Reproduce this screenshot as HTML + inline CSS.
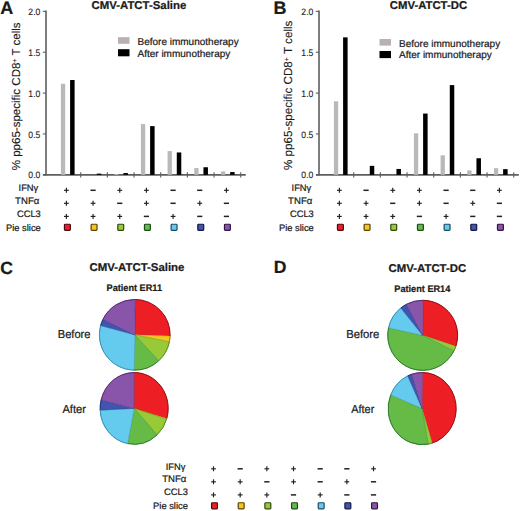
<!DOCTYPE html>
<html><head><meta charset="utf-8"><style>html,body{margin:0;padding:0;background:#fff;width:520px;height:511px;overflow:hidden}svg{display:block}text{font-family:"Liberation Sans",sans-serif;stroke:#1a1a1a;stroke-width:0.22px}</style></head><body><svg width="520" height="511" viewBox="0 0 520 511" font-family="Liberation Sans, sans-serif" fill="#1a1a1a" text-rendering="geometricPrecision"><text x="0.20" y="13.60" font-size="18" font-weight="bold" text-anchor="start" >A</text><text x="91.52" y="9.00" font-size="11.3" font-weight="bold" text-anchor="start" textLength="94.83" lengthAdjust="spacingAndGlyphs" >CMV-ATCT-Saline</text><text transform="translate(19.80,96.36) rotate(-90)" font-size="11.54" text-anchor="middle" style="stroke-width:0.12px">% pp65-specific CD8<tspan baseline-shift="super" font-size="7">+</tspan> T cells</text><line x1="46.00" y1="10.60" x2="46.00" y2="175.55" stroke="#5e5e5e" stroke-width="1.6"/><line x1="42.80" y1="174.85" x2="46.00" y2="174.85" stroke="#5e5e5e" stroke-width="1.1"/><text x="40.35" y="178.45" font-size="9.3" font-weight="normal" text-anchor="end" textLength="12.00" lengthAdjust="spacingAndGlyphs" style="stroke-width:0.1px">0.0</text><line x1="42.80" y1="133.97" x2="46.00" y2="133.97" stroke="#5e5e5e" stroke-width="1.1"/><text x="40.35" y="137.82" font-size="9.3" font-weight="normal" text-anchor="end" textLength="12.00" lengthAdjust="spacingAndGlyphs" style="stroke-width:0.1px">0.5</text><line x1="42.80" y1="93.10" x2="46.00" y2="93.10" stroke="#5e5e5e" stroke-width="1.1"/><text x="40.35" y="96.95" font-size="9.3" font-weight="normal" text-anchor="end" textLength="12.00" lengthAdjust="spacingAndGlyphs" style="stroke-width:0.1px">1.0</text><line x1="42.80" y1="52.22" x2="46.00" y2="52.22" stroke="#5e5e5e" stroke-width="1.1"/><text x="40.35" y="56.07" font-size="9.3" font-weight="normal" text-anchor="end" textLength="12.00" lengthAdjust="spacingAndGlyphs" style="stroke-width:0.1px">1.5</text><line x1="42.80" y1="11.35" x2="46.00" y2="11.35" stroke="#5e5e5e" stroke-width="1.1"/><text x="40.35" y="15.20" font-size="9.3" font-weight="normal" text-anchor="end" textLength="12.00" lengthAdjust="spacingAndGlyphs" style="stroke-width:0.1px">2.0</text><line x1="43.00" y1="174.85" x2="245.80" y2="174.85" stroke="#5e5e5e" stroke-width="1.7"/><line x1="80.70" y1="172.15" x2="80.70" y2="177.55" stroke="#5e5e5e" stroke-width="1.1"/><line x1="107.37" y1="172.15" x2="107.37" y2="177.55" stroke="#5e5e5e" stroke-width="1.1"/><line x1="134.04" y1="172.15" x2="134.04" y2="177.55" stroke="#5e5e5e" stroke-width="1.1"/><line x1="160.71" y1="172.15" x2="160.71" y2="177.55" stroke="#5e5e5e" stroke-width="1.1"/><line x1="187.38" y1="172.15" x2="187.38" y2="177.55" stroke="#5e5e5e" stroke-width="1.1"/><line x1="214.05" y1="172.15" x2="214.05" y2="177.55" stroke="#5e5e5e" stroke-width="1.1"/><line x1="240.72" y1="172.15" x2="240.72" y2="177.55" stroke="#5e5e5e" stroke-width="1.1"/><rect x="60.90" y="83.78" width="4.30" height="91.07" fill="#b9b9b9" /><rect x="70.10" y="80.02" width="4.50" height="94.83" fill="#000" /><rect x="96.77" y="173.62" width="4.50" height="1.23" fill="#000" /><rect x="114.24" y="174.03" width="4.30" height="0.82" fill="#b9b9b9" /><rect x="123.44" y="173.05" width="4.50" height="1.80" fill="#000" /><rect x="140.91" y="124.08" width="4.30" height="50.77" fill="#b9b9b9" /><rect x="150.11" y="126.13" width="4.50" height="48.72" fill="#000" /><rect x="167.58" y="151.06" width="4.30" height="23.79" fill="#b9b9b9" /><rect x="176.78" y="152.45" width="4.50" height="22.40" fill="#000" /><rect x="194.25" y="168.06" width="4.30" height="6.79" fill="#b9b9b9" /><rect x="203.45" y="167.25" width="4.50" height="7.60" fill="#000" /><rect x="220.92" y="171.42" width="4.30" height="3.43" fill="#b9b9b9" /><rect x="230.12" y="172.07" width="4.50" height="2.78" fill="#000" /><rect x="118.00" y="37.20" width="11.50" height="6.60" fill="#b9b0b4" /><rect x="118.00" y="49.20" width="11.50" height="7.10" fill="#000" /><text x="137.50" y="44.80" font-size="10" font-weight="normal" text-anchor="start" >Before immunotherapy</text><text x="137.50" y="56.50" font-size="10" font-weight="normal" text-anchor="start" >After immunotherapy</text><text x="38.30" y="191.00" font-size="9.35" font-weight="normal" text-anchor="end" >IFN&#947;</text><text x="39.30" y="203.70" font-size="9.6" font-weight="normal" text-anchor="end" >TNF&#945;</text><text x="40.80" y="216.80" font-size="9.35" font-weight="normal" text-anchor="end" >CCL3</text><text x="40.80" y="230.50" font-size="9.35" font-weight="normal" text-anchor="end" >Pie slice</text><line x1="64.00" y1="190.30" x2="68.80" y2="190.30" stroke="#222" stroke-width="1.15"/><line x1="66.40" y1="187.80" x2="66.40" y2="192.80" stroke="#222" stroke-width="1.15"/><line x1="90.47" y1="190.30" x2="95.67" y2="190.30" stroke="#222" stroke-width="1.5"/><line x1="117.34" y1="190.30" x2="122.14" y2="190.30" stroke="#222" stroke-width="1.15"/><line x1="119.74" y1="187.80" x2="119.74" y2="192.80" stroke="#222" stroke-width="1.15"/><line x1="144.01" y1="190.30" x2="148.81" y2="190.30" stroke="#222" stroke-width="1.15"/><line x1="146.41" y1="187.80" x2="146.41" y2="192.80" stroke="#222" stroke-width="1.15"/><line x1="170.48" y1="190.30" x2="175.68" y2="190.30" stroke="#222" stroke-width="1.5"/><line x1="197.15" y1="190.30" x2="202.35" y2="190.30" stroke="#222" stroke-width="1.5"/><line x1="224.02" y1="190.30" x2="228.82" y2="190.30" stroke="#222" stroke-width="1.15"/><line x1="226.42" y1="187.80" x2="226.42" y2="192.80" stroke="#222" stroke-width="1.15"/><line x1="64.00" y1="203.30" x2="68.80" y2="203.30" stroke="#222" stroke-width="1.15"/><line x1="66.40" y1="200.80" x2="66.40" y2="205.80" stroke="#222" stroke-width="1.15"/><line x1="90.67" y1="203.30" x2="95.47" y2="203.30" stroke="#222" stroke-width="1.15"/><line x1="93.07" y1="200.80" x2="93.07" y2="205.80" stroke="#222" stroke-width="1.15"/><line x1="117.14" y1="203.30" x2="122.34" y2="203.30" stroke="#222" stroke-width="1.5"/><line x1="144.01" y1="203.30" x2="148.81" y2="203.30" stroke="#222" stroke-width="1.15"/><line x1="146.41" y1="200.80" x2="146.41" y2="205.80" stroke="#222" stroke-width="1.15"/><line x1="170.48" y1="203.30" x2="175.68" y2="203.30" stroke="#222" stroke-width="1.5"/><line x1="197.35" y1="203.30" x2="202.15" y2="203.30" stroke="#222" stroke-width="1.15"/><line x1="199.75" y1="200.80" x2="199.75" y2="205.80" stroke="#222" stroke-width="1.15"/><line x1="223.82" y1="203.30" x2="229.02" y2="203.30" stroke="#222" stroke-width="1.5"/><line x1="64.00" y1="216.40" x2="68.80" y2="216.40" stroke="#222" stroke-width="1.15"/><line x1="66.40" y1="213.90" x2="66.40" y2="218.90" stroke="#222" stroke-width="1.15"/><line x1="90.67" y1="216.40" x2="95.47" y2="216.40" stroke="#222" stroke-width="1.15"/><line x1="93.07" y1="213.90" x2="93.07" y2="218.90" stroke="#222" stroke-width="1.15"/><line x1="117.34" y1="216.40" x2="122.14" y2="216.40" stroke="#222" stroke-width="1.15"/><line x1="119.74" y1="213.90" x2="119.74" y2="218.90" stroke="#222" stroke-width="1.15"/><line x1="143.81" y1="216.40" x2="149.01" y2="216.40" stroke="#222" stroke-width="1.5"/><line x1="170.68" y1="216.40" x2="175.48" y2="216.40" stroke="#222" stroke-width="1.15"/><line x1="173.08" y1="213.90" x2="173.08" y2="218.90" stroke="#222" stroke-width="1.15"/><line x1="197.15" y1="216.40" x2="202.35" y2="216.40" stroke="#222" stroke-width="1.5"/><line x1="223.82" y1="216.40" x2="229.02" y2="216.40" stroke="#222" stroke-width="1.5"/><rect x="64.45" y="224.25" width="5.90" height="6.10" fill="#ee1e25" rx="0.8" stroke="#4a0810" stroke-width="1.2"/><rect x="91.12" y="224.25" width="5.90" height="6.10" fill="#f7c51b" rx="0.8" stroke="#5a4200" stroke-width="1.2"/><rect x="117.79" y="224.25" width="5.90" height="6.10" fill="#97ca36" rx="0.8" stroke="#2e4a0c" stroke-width="1.2"/><rect x="144.46" y="224.25" width="5.90" height="6.10" fill="#65bb46" rx="0.8" stroke="#184a18" stroke-width="1.2"/><rect x="171.13" y="224.25" width="5.90" height="6.10" fill="#64cbee" rx="0.8" stroke="#184a66" stroke-width="1.2"/><rect x="197.80" y="224.25" width="5.90" height="6.10" fill="#4054b0" rx="0.8" stroke="#10183e" stroke-width="1.2"/><rect x="224.47" y="224.25" width="5.90" height="6.10" fill="#8855ab" rx="0.8" stroke="#30143e" stroke-width="1.2"/><text x="273.40" y="13.60" font-size="18" font-weight="bold" text-anchor="start" >B</text><text x="389.82" y="9.00" font-size="11.3" font-weight="bold" text-anchor="start" textLength="77.27" lengthAdjust="spacingAndGlyphs" >CMV-ATCT-DC</text><text transform="translate(292.30,95.30) rotate(-90)" font-size="11.66" text-anchor="middle" style="stroke-width:0.12px">% pp65-specific CD8<tspan baseline-shift="super" font-size="7">+</tspan> T cells</text><line x1="319.00" y1="10.60" x2="319.00" y2="175.55" stroke="#5e5e5e" stroke-width="1.6"/><line x1="315.80" y1="174.85" x2="319.00" y2="174.85" stroke="#5e5e5e" stroke-width="1.1"/><text x="313.35" y="178.45" font-size="9.3" font-weight="normal" text-anchor="end" textLength="12.00" lengthAdjust="spacingAndGlyphs" style="stroke-width:0.1px">0.0</text><line x1="315.80" y1="133.97" x2="319.00" y2="133.97" stroke="#5e5e5e" stroke-width="1.1"/><text x="313.35" y="137.82" font-size="9.3" font-weight="normal" text-anchor="end" textLength="12.00" lengthAdjust="spacingAndGlyphs" style="stroke-width:0.1px">0.5</text><line x1="315.80" y1="93.10" x2="319.00" y2="93.10" stroke="#5e5e5e" stroke-width="1.1"/><text x="313.35" y="96.95" font-size="9.3" font-weight="normal" text-anchor="end" textLength="12.00" lengthAdjust="spacingAndGlyphs" style="stroke-width:0.1px">1.0</text><line x1="315.80" y1="52.22" x2="319.00" y2="52.22" stroke="#5e5e5e" stroke-width="1.1"/><text x="313.35" y="56.07" font-size="9.3" font-weight="normal" text-anchor="end" textLength="12.00" lengthAdjust="spacingAndGlyphs" style="stroke-width:0.1px">1.5</text><line x1="315.80" y1="11.35" x2="319.00" y2="11.35" stroke="#5e5e5e" stroke-width="1.1"/><text x="313.35" y="15.20" font-size="9.3" font-weight="normal" text-anchor="end" textLength="12.00" lengthAdjust="spacingAndGlyphs" style="stroke-width:0.1px">2.0</text><line x1="316.00" y1="174.85" x2="518.80" y2="174.85" stroke="#5e5e5e" stroke-width="1.7"/><line x1="353.70" y1="172.15" x2="353.70" y2="177.55" stroke="#5e5e5e" stroke-width="1.1"/><line x1="380.37" y1="172.15" x2="380.37" y2="177.55" stroke="#5e5e5e" stroke-width="1.1"/><line x1="407.04" y1="172.15" x2="407.04" y2="177.55" stroke="#5e5e5e" stroke-width="1.1"/><line x1="433.71" y1="172.15" x2="433.71" y2="177.55" stroke="#5e5e5e" stroke-width="1.1"/><line x1="460.38" y1="172.15" x2="460.38" y2="177.55" stroke="#5e5e5e" stroke-width="1.1"/><line x1="487.05" y1="172.15" x2="487.05" y2="177.55" stroke="#5e5e5e" stroke-width="1.1"/><line x1="513.72" y1="172.15" x2="513.72" y2="177.55" stroke="#5e5e5e" stroke-width="1.1"/><rect x="333.90" y="101.27" width="4.30" height="73.58" fill="#b9b9b9" /><rect x="343.10" y="37.35" width="4.50" height="137.50" fill="#000" /><rect x="369.77" y="165.86" width="4.50" height="8.99" fill="#000" /><rect x="396.44" y="168.96" width="4.50" height="5.89" fill="#000" /><rect x="413.91" y="133.32" width="4.30" height="41.53" fill="#b9b9b9" /><rect x="423.11" y="113.54" width="4.50" height="61.31" fill="#000" /><rect x="440.58" y="155.31" width="4.30" height="19.54" fill="#b9b9b9" /><rect x="449.78" y="85.09" width="4.50" height="89.76" fill="#000" /><rect x="467.25" y="170.35" width="4.30" height="4.50" fill="#b9b9b9" /><rect x="476.45" y="158.25" width="4.50" height="16.60" fill="#000" /><rect x="493.92" y="168.15" width="4.30" height="6.70" fill="#b9b9b9" /><rect x="503.12" y="169.13" width="4.50" height="5.72" fill="#000" /><rect x="379.50" y="39.00" width="11.50" height="6.60" fill="#b9b0b4" /><rect x="379.50" y="51.00" width="11.50" height="7.10" fill="#000" /><text x="399.00" y="46.60" font-size="10" font-weight="normal" text-anchor="start" >Before immunotherapy</text><text x="399.00" y="58.30" font-size="10" font-weight="normal" text-anchor="start" >After immunotherapy</text><text x="311.30" y="191.00" font-size="9.35" font-weight="normal" text-anchor="end" >IFN&#947;</text><text x="312.30" y="203.70" font-size="9.6" font-weight="normal" text-anchor="end" >TNF&#945;</text><text x="313.80" y="216.80" font-size="9.35" font-weight="normal" text-anchor="end" >CCL3</text><text x="313.80" y="230.50" font-size="9.35" font-weight="normal" text-anchor="end" >Pie slice</text><line x1="337.00" y1="190.30" x2="341.80" y2="190.30" stroke="#222" stroke-width="1.15"/><line x1="339.40" y1="187.80" x2="339.40" y2="192.80" stroke="#222" stroke-width="1.15"/><line x1="363.47" y1="190.30" x2="368.67" y2="190.30" stroke="#222" stroke-width="1.5"/><line x1="390.34" y1="190.30" x2="395.14" y2="190.30" stroke="#222" stroke-width="1.15"/><line x1="392.74" y1="187.80" x2="392.74" y2="192.80" stroke="#222" stroke-width="1.15"/><line x1="417.01" y1="190.30" x2="421.81" y2="190.30" stroke="#222" stroke-width="1.15"/><line x1="419.41" y1="187.80" x2="419.41" y2="192.80" stroke="#222" stroke-width="1.15"/><line x1="443.48" y1="190.30" x2="448.68" y2="190.30" stroke="#222" stroke-width="1.5"/><line x1="470.15" y1="190.30" x2="475.35" y2="190.30" stroke="#222" stroke-width="1.5"/><line x1="497.02" y1="190.30" x2="501.82" y2="190.30" stroke="#222" stroke-width="1.15"/><line x1="499.42" y1="187.80" x2="499.42" y2="192.80" stroke="#222" stroke-width="1.15"/><line x1="337.00" y1="203.30" x2="341.80" y2="203.30" stroke="#222" stroke-width="1.15"/><line x1="339.40" y1="200.80" x2="339.40" y2="205.80" stroke="#222" stroke-width="1.15"/><line x1="363.67" y1="203.30" x2="368.47" y2="203.30" stroke="#222" stroke-width="1.15"/><line x1="366.07" y1="200.80" x2="366.07" y2="205.80" stroke="#222" stroke-width="1.15"/><line x1="390.14" y1="203.30" x2="395.34" y2="203.30" stroke="#222" stroke-width="1.5"/><line x1="417.01" y1="203.30" x2="421.81" y2="203.30" stroke="#222" stroke-width="1.15"/><line x1="419.41" y1="200.80" x2="419.41" y2="205.80" stroke="#222" stroke-width="1.15"/><line x1="443.48" y1="203.30" x2="448.68" y2="203.30" stroke="#222" stroke-width="1.5"/><line x1="470.35" y1="203.30" x2="475.15" y2="203.30" stroke="#222" stroke-width="1.15"/><line x1="472.75" y1="200.80" x2="472.75" y2="205.80" stroke="#222" stroke-width="1.15"/><line x1="496.82" y1="203.30" x2="502.02" y2="203.30" stroke="#222" stroke-width="1.5"/><line x1="337.00" y1="216.40" x2="341.80" y2="216.40" stroke="#222" stroke-width="1.15"/><line x1="339.40" y1="213.90" x2="339.40" y2="218.90" stroke="#222" stroke-width="1.15"/><line x1="363.67" y1="216.40" x2="368.47" y2="216.40" stroke="#222" stroke-width="1.15"/><line x1="366.07" y1="213.90" x2="366.07" y2="218.90" stroke="#222" stroke-width="1.15"/><line x1="390.34" y1="216.40" x2="395.14" y2="216.40" stroke="#222" stroke-width="1.15"/><line x1="392.74" y1="213.90" x2="392.74" y2="218.90" stroke="#222" stroke-width="1.15"/><line x1="416.81" y1="216.40" x2="422.01" y2="216.40" stroke="#222" stroke-width="1.5"/><line x1="443.68" y1="216.40" x2="448.48" y2="216.40" stroke="#222" stroke-width="1.15"/><line x1="446.08" y1="213.90" x2="446.08" y2="218.90" stroke="#222" stroke-width="1.15"/><line x1="470.15" y1="216.40" x2="475.35" y2="216.40" stroke="#222" stroke-width="1.5"/><line x1="496.82" y1="216.40" x2="502.02" y2="216.40" stroke="#222" stroke-width="1.5"/><rect x="337.45" y="224.25" width="5.90" height="6.10" fill="#ee1e25" rx="0.8" stroke="#4a0810" stroke-width="1.2"/><rect x="364.12" y="224.25" width="5.90" height="6.10" fill="#f7c51b" rx="0.8" stroke="#5a4200" stroke-width="1.2"/><rect x="390.79" y="224.25" width="5.90" height="6.10" fill="#97ca36" rx="0.8" stroke="#2e4a0c" stroke-width="1.2"/><rect x="417.46" y="224.25" width="5.90" height="6.10" fill="#65bb46" rx="0.8" stroke="#184a18" stroke-width="1.2"/><rect x="444.13" y="224.25" width="5.90" height="6.10" fill="#64cbee" rx="0.8" stroke="#184a66" stroke-width="1.2"/><rect x="470.80" y="224.25" width="5.90" height="6.10" fill="#4054b0" rx="0.8" stroke="#10183e" stroke-width="1.2"/><rect x="497.47" y="224.25" width="5.90" height="6.10" fill="#8855ab" rx="0.8" stroke="#30143e" stroke-width="1.2"/><text x="0.20" y="273.60" font-size="17.6" font-weight="bold" text-anchor="start" >C</text><text x="273.70" y="273.10" font-size="17.6" font-weight="bold" text-anchor="start" >D</text><text x="89.52" y="271.00" font-size="11.3" font-weight="bold" text-anchor="start" textLength="94.94" lengthAdjust="spacingAndGlyphs" >CMV-ATCT-Saline</text><text x="388.62" y="272.00" font-size="11.3" font-weight="bold" text-anchor="start" textLength="77.57" lengthAdjust="spacingAndGlyphs" >CMV-ATCT-DC</text><text x="106.62" y="291.20" font-size="9.6" font-weight="bold" text-anchor="start" textLength="55.37" lengthAdjust="spacingAndGlyphs" >Patient ER11</text><text x="394.32" y="291.90" font-size="9.6" font-weight="bold" text-anchor="start" textLength="55.98" lengthAdjust="spacingAndGlyphs" >Patient ER14</text><text x="57.79" y="337.80" font-size="11.6" font-weight="normal" text-anchor="start" textLength="32.72" lengthAdjust="spacingAndGlyphs" >Before</text><text x="62.43" y="412.80" font-size="11.6" font-weight="normal" text-anchor="start" textLength="23.58" lengthAdjust="spacingAndGlyphs" >After</text><text x="346.23" y="337.80" font-size="11.6" font-weight="normal" text-anchor="start" textLength="33.09" lengthAdjust="spacingAndGlyphs" >Before</text><text x="351.23" y="413.00" font-size="11.6" font-weight="normal" text-anchor="start" textLength="23.08" lengthAdjust="spacingAndGlyphs" >After</text><path d="M134.75,334.80 L135.18,299.45 A35.35,35.35 0 0 1 170.08,336.03 Z" fill="#ee1e25" stroke="#9a0e16" stroke-opacity="0.6" stroke-width="0.6" stroke-linejoin="round"/><path d="M134.75,334.80 L170.08,336.03 A35.35,35.35 0 0 1 169.39,341.85 Z" fill="#f7c51b" stroke="#a88000" stroke-opacity="0.6" stroke-width="0.6" stroke-linejoin="round"/><path d="M134.75,334.80 L169.39,341.85 A35.35,35.35 0 0 1 158.63,360.86 Z" fill="#97ca36" stroke="#5a8a22" stroke-opacity="0.6" stroke-width="0.6" stroke-linejoin="round"/><path d="M134.75,334.80 L158.63,360.86 A35.35,35.35 0 0 1 134.13,370.14 Z" fill="#65bb46" stroke="#2c7e2e" stroke-opacity="0.6" stroke-width="0.6" stroke-linejoin="round"/><path d="M134.75,334.80 L134.13,370.14 A35.35,35.35 0 0 1 100.62,325.59 Z" fill="#64cbee" stroke="#3590b8" stroke-opacity="0.6" stroke-width="0.6" stroke-linejoin="round"/><path d="M134.75,334.80 L100.62,325.59 A35.35,35.35 0 0 1 102.98,319.30 Z" fill="#4054b0" stroke="#223278" stroke-opacity="0.6" stroke-width="0.6" stroke-linejoin="round"/><path d="M134.75,334.80 L102.98,319.30 A35.35,35.35 0 0 1 135.18,299.45 Z" fill="#8855ab" stroke="#582a74" stroke-opacity="0.6" stroke-width="0.6" stroke-linejoin="round"/><path d="M135.18,299.45 A35.35,35.35 0 0 1 170.08,336.03" fill="none" stroke="#9a0e16" stroke-width="1.0"/><path d="M170.08,336.03 A35.35,35.35 0 0 1 169.39,341.85" fill="none" stroke="#a88000" stroke-width="1.0"/><path d="M169.39,341.85 A35.35,35.35 0 0 1 158.63,360.86" fill="none" stroke="#5a8a22" stroke-width="1.0"/><path d="M158.63,360.86 A35.35,35.35 0 0 1 134.13,370.14" fill="none" stroke="#2c7e2e" stroke-width="1.0"/><path d="M134.13,370.14 A35.35,35.35 0 0 1 100.62,325.59" fill="none" stroke="#3590b8" stroke-width="1.0"/><path d="M100.62,325.59 A35.35,35.35 0 0 1 102.98,319.30" fill="none" stroke="#223278" stroke-width="1.0"/><path d="M102.98,319.30 A35.35,35.35 0 0 1 135.18,299.45" fill="none" stroke="#582a74" stroke-width="1.0"/><path d="M134.15,408.40 L134.15,372.55 A34.00,35.85 0 0 1 166.74,418.61 Z" fill="#ee1e25" stroke="#9a0e16" stroke-opacity="0.6" stroke-width="0.6" stroke-linejoin="round"/><path d="M134.15,408.40 L166.74,418.61 A34.00,35.85 0 0 1 166.54,419.30 Z" fill="#f7c51b" stroke="#a88000" stroke-opacity="0.6" stroke-width="0.6" stroke-linejoin="round"/><path d="M134.15,408.40 L166.54,419.30 A34.00,35.85 0 0 1 157.08,434.87 Z" fill="#97ca36" stroke="#5a8a22" stroke-opacity="0.6" stroke-width="0.6" stroke-linejoin="round"/><path d="M134.15,408.40 L157.08,434.87 A34.00,35.85 0 0 1 127.57,443.57 Z" fill="#65bb46" stroke="#2c7e2e" stroke-opacity="0.6" stroke-width="0.6" stroke-linejoin="round"/><path d="M134.15,408.40 L127.57,443.57 A34.00,35.85 0 0 1 100.19,410.18 Z" fill="#64cbee" stroke="#3590b8" stroke-opacity="0.6" stroke-width="0.6" stroke-linejoin="round"/><path d="M134.15,408.40 L100.19,410.18 A34.00,35.85 0 0 1 101.16,399.74 Z" fill="#4054b0" stroke="#223278" stroke-opacity="0.6" stroke-width="0.6" stroke-linejoin="round"/><path d="M134.15,408.40 L101.16,399.74 A34.00,35.85 0 0 1 134.15,372.55 Z" fill="#8855ab" stroke="#582a74" stroke-opacity="0.6" stroke-width="0.6" stroke-linejoin="round"/><path d="M134.15,372.55 A34.00,35.85 0 0 1 166.74,418.61" fill="none" stroke="#9a0e16" stroke-width="1.0"/><path d="M166.74,418.61 A34.00,35.85 0 0 1 166.54,419.30" fill="none" stroke="#a88000" stroke-width="1.0"/><path d="M166.54,419.30 A34.00,35.85 0 0 1 157.08,434.87" fill="none" stroke="#5a8a22" stroke-width="1.0"/><path d="M157.08,434.87 A34.00,35.85 0 0 1 127.57,443.57" fill="none" stroke="#2c7e2e" stroke-width="1.0"/><path d="M127.57,443.57 A34.00,35.85 0 0 1 100.19,410.18" fill="none" stroke="#3590b8" stroke-width="1.0"/><path d="M100.19,410.18 A34.00,35.85 0 0 1 101.16,399.74" fill="none" stroke="#223278" stroke-width="1.0"/><path d="M101.16,399.74 A34.00,35.85 0 0 1 134.15,372.55" fill="none" stroke="#582a74" stroke-width="1.0"/><path d="M422.65,335.35 L422.65,300.30 A34.95,35.05 0 0 1 455.90,346.15 Z" fill="#ee1e25" stroke="#9a0e16" stroke-opacity="0.6" stroke-width="0.6" stroke-linejoin="round"/><path d="M422.65,335.35 L455.90,346.15 A34.95,35.05 0 0 1 453.95,350.95 Z" fill="#97ca36" stroke="#5a8a22" stroke-opacity="0.6" stroke-width="0.6" stroke-linejoin="round"/><path d="M422.65,335.35 L453.95,350.95 A34.95,35.05 0 0 1 388.54,327.72 Z" fill="#65bb46" stroke="#2c7e2e" stroke-opacity="0.6" stroke-width="0.6" stroke-linejoin="round"/><path d="M422.65,335.35 L388.54,327.72 A34.95,35.05 0 0 1 400.81,307.99 Z" fill="#64cbee" stroke="#3590b8" stroke-opacity="0.6" stroke-width="0.6" stroke-linejoin="round"/><path d="M422.65,335.35 L400.81,307.99 A34.95,35.05 0 0 1 406.64,304.19 Z" fill="#4054b0" stroke="#223278" stroke-opacity="0.6" stroke-width="0.6" stroke-linejoin="round"/><path d="M422.65,335.35 L406.64,304.19 A34.95,35.05 0 0 1 422.65,300.30 Z" fill="#8855ab" stroke="#582a74" stroke-opacity="0.6" stroke-width="0.6" stroke-linejoin="round"/><path d="M422.65,300.30 A34.95,35.05 0 0 1 455.90,346.15" fill="none" stroke="#9a0e16" stroke-width="1.0"/><path d="M455.90,346.15 A34.95,35.05 0 0 1 453.95,350.95" fill="none" stroke="#5a8a22" stroke-width="1.0"/><path d="M453.95,350.95 A34.95,35.05 0 0 1 388.54,327.72" fill="none" stroke="#2c7e2e" stroke-width="1.0"/><path d="M388.54,327.72 A34.95,35.05 0 0 1 400.81,307.99" fill="none" stroke="#3590b8" stroke-width="1.0"/><path d="M400.81,307.99 A34.95,35.05 0 0 1 406.64,304.19" fill="none" stroke="#223278" stroke-width="1.0"/><path d="M406.64,304.19 A34.95,35.05 0 0 1 422.65,300.30" fill="none" stroke="#582a74" stroke-width="1.0"/><path d="M422.15,408.60 L422.40,372.50 A34.00,36.10 0 0 1 432.23,443.08 Z" fill="#ee1e25" stroke="#9a0e16" stroke-opacity="0.6" stroke-width="0.6" stroke-linejoin="round"/><path d="M422.15,408.60 L432.23,443.08 A34.00,36.10 0 0 1 428.10,444.14 Z" fill="#97ca36" stroke="#5a8a22" stroke-opacity="0.6" stroke-width="0.6" stroke-linejoin="round"/><path d="M422.15,408.60 L428.10,444.14 A34.00,36.10 0 0 1 390.77,394.70 Z" fill="#65bb46" stroke="#2c7e2e" stroke-opacity="0.6" stroke-width="0.6" stroke-linejoin="round"/><path d="M422.15,408.60 L390.77,394.70 A34.00,36.10 0 0 1 407.73,375.91 Z" fill="#64cbee" stroke="#3590b8" stroke-opacity="0.6" stroke-width="0.6" stroke-linejoin="round"/><path d="M422.15,408.60 L407.73,375.91 A34.00,36.10 0 0 1 411.83,374.20 Z" fill="#4054b0" stroke="#223278" stroke-opacity="0.6" stroke-width="0.6" stroke-linejoin="round"/><path d="M422.15,408.60 L411.83,374.20 A34.00,36.10 0 0 1 422.40,372.50 Z" fill="#8855ab" stroke="#582a74" stroke-opacity="0.6" stroke-width="0.6" stroke-linejoin="round"/><path d="M422.40,372.50 A34.00,36.10 0 0 1 432.23,443.08" fill="none" stroke="#9a0e16" stroke-width="1.0"/><path d="M432.23,443.08 A34.00,36.10 0 0 1 428.10,444.14" fill="none" stroke="#5a8a22" stroke-width="1.0"/><path d="M428.10,444.14 A34.00,36.10 0 0 1 390.77,394.70" fill="none" stroke="#2c7e2e" stroke-width="1.0"/><path d="M390.77,394.70 A34.00,36.10 0 0 1 407.73,375.91" fill="none" stroke="#3590b8" stroke-width="1.0"/><path d="M407.73,375.91 A34.00,36.10 0 0 1 411.83,374.20" fill="none" stroke="#223278" stroke-width="1.0"/><path d="M411.83,374.20 A34.00,36.10 0 0 1 422.40,372.50" fill="none" stroke="#582a74" stroke-width="1.0"/><text x="185.40" y="469.50" font-size="9.35" font-weight="normal" text-anchor="end" >IFN&#947;</text><text x="186.40" y="482.20" font-size="9.6" font-weight="normal" text-anchor="end" >TNF&#945;</text><text x="187.90" y="495.30" font-size="9.35" font-weight="normal" text-anchor="end" >CCL3</text><text x="187.90" y="509.00" font-size="9.35" font-weight="normal" text-anchor="end" >Pie slice</text><line x1="211.10" y1="468.80" x2="215.90" y2="468.80" stroke="#222" stroke-width="1.15"/><line x1="213.50" y1="466.30" x2="213.50" y2="471.30" stroke="#222" stroke-width="1.15"/><line x1="237.57" y1="468.80" x2="242.77" y2="468.80" stroke="#222" stroke-width="1.5"/><line x1="264.44" y1="468.80" x2="269.24" y2="468.80" stroke="#222" stroke-width="1.15"/><line x1="266.84" y1="466.30" x2="266.84" y2="471.30" stroke="#222" stroke-width="1.15"/><line x1="291.11" y1="468.80" x2="295.91" y2="468.80" stroke="#222" stroke-width="1.15"/><line x1="293.51" y1="466.30" x2="293.51" y2="471.30" stroke="#222" stroke-width="1.15"/><line x1="317.58" y1="468.80" x2="322.78" y2="468.80" stroke="#222" stroke-width="1.5"/><line x1="344.25" y1="468.80" x2="349.45" y2="468.80" stroke="#222" stroke-width="1.5"/><line x1="371.12" y1="468.80" x2="375.92" y2="468.80" stroke="#222" stroke-width="1.15"/><line x1="373.52" y1="466.30" x2="373.52" y2="471.30" stroke="#222" stroke-width="1.15"/><line x1="211.10" y1="481.80" x2="215.90" y2="481.80" stroke="#222" stroke-width="1.15"/><line x1="213.50" y1="479.30" x2="213.50" y2="484.30" stroke="#222" stroke-width="1.15"/><line x1="237.77" y1="481.80" x2="242.57" y2="481.80" stroke="#222" stroke-width="1.15"/><line x1="240.17" y1="479.30" x2="240.17" y2="484.30" stroke="#222" stroke-width="1.15"/><line x1="264.24" y1="481.80" x2="269.44" y2="481.80" stroke="#222" stroke-width="1.5"/><line x1="291.11" y1="481.80" x2="295.91" y2="481.80" stroke="#222" stroke-width="1.15"/><line x1="293.51" y1="479.30" x2="293.51" y2="484.30" stroke="#222" stroke-width="1.15"/><line x1="317.58" y1="481.80" x2="322.78" y2="481.80" stroke="#222" stroke-width="1.5"/><line x1="344.45" y1="481.80" x2="349.25" y2="481.80" stroke="#222" stroke-width="1.15"/><line x1="346.85" y1="479.30" x2="346.85" y2="484.30" stroke="#222" stroke-width="1.15"/><line x1="370.92" y1="481.80" x2="376.12" y2="481.80" stroke="#222" stroke-width="1.5"/><line x1="211.10" y1="494.90" x2="215.90" y2="494.90" stroke="#222" stroke-width="1.15"/><line x1="213.50" y1="492.40" x2="213.50" y2="497.40" stroke="#222" stroke-width="1.15"/><line x1="237.77" y1="494.90" x2="242.57" y2="494.90" stroke="#222" stroke-width="1.15"/><line x1="240.17" y1="492.40" x2="240.17" y2="497.40" stroke="#222" stroke-width="1.15"/><line x1="264.44" y1="494.90" x2="269.24" y2="494.90" stroke="#222" stroke-width="1.15"/><line x1="266.84" y1="492.40" x2="266.84" y2="497.40" stroke="#222" stroke-width="1.15"/><line x1="290.91" y1="494.90" x2="296.11" y2="494.90" stroke="#222" stroke-width="1.5"/><line x1="317.78" y1="494.90" x2="322.58" y2="494.90" stroke="#222" stroke-width="1.15"/><line x1="320.18" y1="492.40" x2="320.18" y2="497.40" stroke="#222" stroke-width="1.15"/><line x1="344.25" y1="494.90" x2="349.45" y2="494.90" stroke="#222" stroke-width="1.5"/><line x1="370.92" y1="494.90" x2="376.12" y2="494.90" stroke="#222" stroke-width="1.5"/><rect x="211.55" y="502.75" width="5.90" height="6.10" fill="#ee1e25" rx="0.8" stroke="#4a0810" stroke-width="1.2"/><rect x="238.22" y="502.75" width="5.90" height="6.10" fill="#f7c51b" rx="0.8" stroke="#5a4200" stroke-width="1.2"/><rect x="264.89" y="502.75" width="5.90" height="6.10" fill="#97ca36" rx="0.8" stroke="#2e4a0c" stroke-width="1.2"/><rect x="291.56" y="502.75" width="5.90" height="6.10" fill="#65bb46" rx="0.8" stroke="#184a18" stroke-width="1.2"/><rect x="318.23" y="502.75" width="5.90" height="6.10" fill="#64cbee" rx="0.8" stroke="#184a66" stroke-width="1.2"/><rect x="344.90" y="502.75" width="5.90" height="6.10" fill="#4054b0" rx="0.8" stroke="#10183e" stroke-width="1.2"/><rect x="371.57" y="502.75" width="5.90" height="6.10" fill="#8855ab" rx="0.8" stroke="#30143e" stroke-width="1.2"/></svg></body></html>
